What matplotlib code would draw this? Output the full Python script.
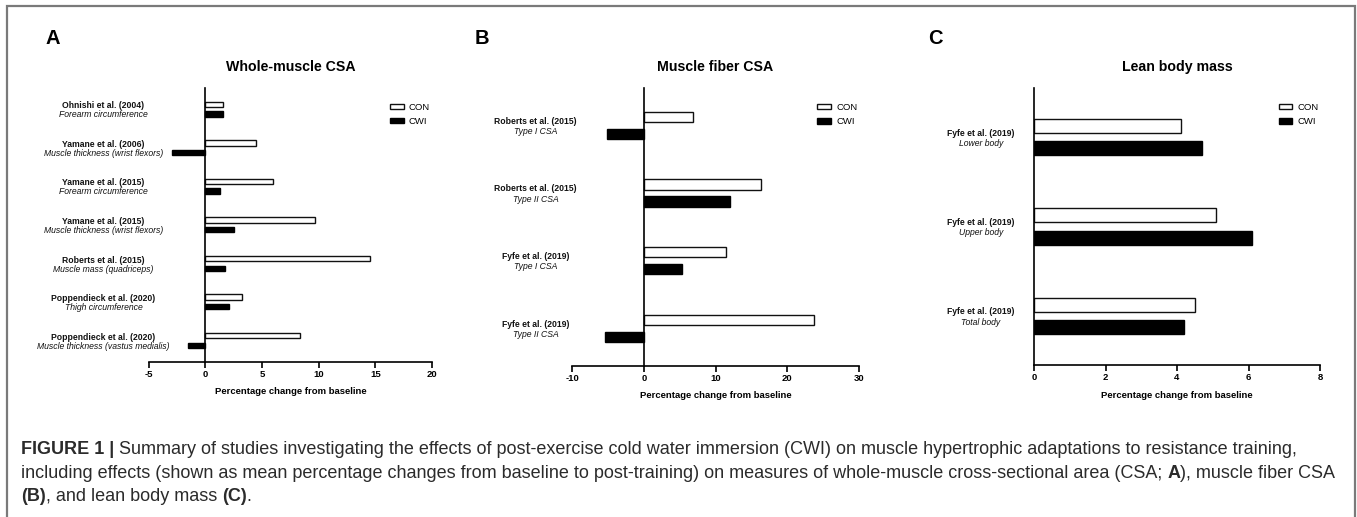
import matplotlib
matplotlib.use('Agg')
import matplotlib.pyplot as plt
import matplotlib.transforms as mtransforms
from matplotlib.patches import Rectangle, Patch
import numpy as np

plt.rcParams['font.family'] = ['Liberation Sans', 'DejaVu Sans']
plt.rcParams['axes.unicode_minus'] = False

W, H = 1357, 517

# Panel A - whole-muscle CSA
etudes_a = ['Ohnishi et al. (2004)', 'Yamane et al. (2006)', 'Yamane et al. (2015)',
            'Yamane et al. (2015)', 'Roberts et al. (2015)', 'Poppendieck et al. (2020)',
            'Poppendieck et al. (2020)']
mesures_a = ['Forearm circumference', 'Muscle thickness (wrist flexors)',
             'Forearm circumference', 'Muscle thickness (wrist flexors)',
             'Muscle mass (quadriceps)', 'Thigh circumference',
             'Muscle thickness (vastus medialis)']
con_a = [1.6, 4.5, 6.0, 9.65, 14.5, 3.2, 8.35]
cwi_a = [1.6, -2.9, 1.3, 2.5, 1.7, 2.1, -1.5]

# Panel B - muscle fiber CSA
etudes_b = ['Roberts et al. (2015)', 'Roberts et al. (2015)',
            'Fyfe et al. (2019)', 'Fyfe et al. (2019)']
mesures_b = ['Type I CSA', 'Type II CSA', 'Type I CSA', 'Type II CSA']
con_b = [6.9, 16.4, 11.4, 23.7]
cwi_b = [-5.2, 12.0, 5.3, -5.5]

# Panel C - lean body mass
etudes_c = ['Fyfe et al. (2019)', 'Fyfe et al. (2019)', 'Fyfe et al. (2019)']
mesures_c = ['Lower body', 'Upper body', 'Total body']
con_c = [4.1, 5.1, 4.5]
cwi_c = [4.7, 6.1, 4.2]

fig = plt.figure(figsize=(W / 100, H / 100), dpi=100)


def px_axes(x0, y0, x1, y1):
    # boite en pixels (origine en haut a gauche)
    return fig.add_axes([x0 / W, (H - y1) / H, (x1 - x0) / W, (y1 - y0) / H])


def panneau(box, lettre, lettre_x, titre, etudes, mesures, con, cwi, xlim, pas,
            label_x, h_barre, ecart_lignes, leg_anchor):
    ax = px_axes(*box)
    n = len(etudes)
    y = np.arange(n)
    off = 0.125
    ax.barh(y - off, con, height=h_barre, color='white', edgecolor='#111111',
            linewidth=1.0, label='CON')
    ax.barh(y + off, cwi, height=h_barre, color='black', edgecolor='black',
            linewidth=1.0, label='CWI')
    ax.set_ylim(n - 0.45, -0.55)
    ax.set_xlim(*xlim)
    ax.set_xticks(np.arange(xlim[0], xlim[1] + pas / 2, pas))
    ax.tick_params(axis='x', direction='out', length=4, width=1.2, pad=2,
                   labelsize=6.8)
    for t in ax.get_xticklabels():
        t.set_fontweight('bold')
    ax.set_yticks([])
    ax.spines['left'].set_position(('data', 0))
    ax.spines['left'].set_linewidth(1.2)
    ax.spines['bottom'].set_linewidth(1.2)
    ax.spines['top'].set_visible(False)
    ax.spines['right'].set_visible(False)
    ax.set_xlabel('Percentage change from baseline', fontsize=6.8,
                  fontweight='bold', labelpad=6)
    ax.set_title(titre, fontsize=10.2, fontweight='bold', pad=12)

    # etiquettes des etudes sur deux lignes
    trans = mtransforms.blended_transform_factory(fig.transFigure, ax.transData)
    demi = ecart_lignes / 2 * 0.72
    for i in range(n):
        ax.annotate(etudes[i], xy=(label_x / W, i), xycoords=trans,
                    xytext=(0, demi - 0.8), textcoords='offset points',
                    ha='center', va='center', fontsize=6.2, fontweight='bold',
                    color='#111111', annotation_clip=False)
        ax.annotate(mesures[i], xy=(label_x / W, i), xycoords=trans,
                    xytext=(0, -demi - 0.8), textcoords='offset points',
                    ha='center', va='center', fontsize=6.2, style='italic',
                    color='#111111', annotation_clip=False)

    poignees = [Patch(facecolor='white', edgecolor='#111111', linewidth=1.0),
                Patch(facecolor='black', edgecolor='black', linewidth=1.0)]
    ax.legend(poignees, ['CON', 'CWI'], loc='upper left',
              bbox_to_anchor=leg_anchor, frameon=False, fontsize=6.8,
              handlelength=1.45, handleheight=0.55, handletextpad=0.55,
              labelspacing=0.55, borderpad=0, borderaxespad=0)

    fig.text(lettre_x / W, 1 - 38 / H, lettre, fontsize=14.5, fontweight='bold',
             ha='left', va='center')
    return ax


panneau((148.7, 88, 432, 361.7), 'A', 45, 'Whole-muscle CSA', etudes_a, mesures_a,
        con_a, cwi_a, (-5, 20), 5, 103.5, 0.14, 9, (0.852, 0.946))
panneau((572.3, 88, 858.7, 365.7), 'B', 475, 'Muscle fiber CSA', etudes_b, mesures_b,
        con_b, cwi_b, (-10, 30), 10, 535.7, 0.15, 10.3, (0.855, 0.946))
panneau((1034, 88, 1320, 365), 'C', 928, 'Lean body mass', etudes_c, mesures_c,
        con_c, cwi_c, (0, 8), 2, 981, 0.155, 10.3, (0.855, 0.946))

# cadre gris autour de la figure
fig.patches.append(Rectangle((7 / W, -0.05), (1355 - 7) / W, 1.05 - 6 / H,
                             transform=fig.transFigure, fill=False,
                             edgecolor='#7a7a7a', linewidth=1.6))

# legende de la figure, en morceaux gras / normaux
lignes = [
    [('FIGURE 1 |', 'bold'),
     (' Summary of studies investigating the effects of post-exercise cold water '
      'immersion (CWI) on muscle hypertrophic adaptations to resistance training,', 'normal')],
    [('including effects (shown as mean percentage changes from baseline to '
      'post-training) on measures of whole-muscle cross-sectional area (CSA; ', 'normal'),
     ('A', 'bold'), ('), muscle fiber CSA', 'normal')],
    [('(B)', 'bold'), (', and lean body mass ', 'normal'), ('(C)', 'bold'),
     ('.', 'normal')],
]
lignes_y = [450, 473.5, 496.5]

renderer = fig.canvas.get_renderer()
for morceaux, ly in zip(lignes, lignes_y):
    x = 21
    for texte, poids in morceaux:
        t = fig.text(x / W, 1 - ly / H, texte, fontsize=13, fontweight=poids,
                     color='#2b2b2b', ha='left', va='center')
        bb = t.get_window_extent(renderer=renderer)
        x += bb.width

fig.savefig('out.png', dpi=100)
